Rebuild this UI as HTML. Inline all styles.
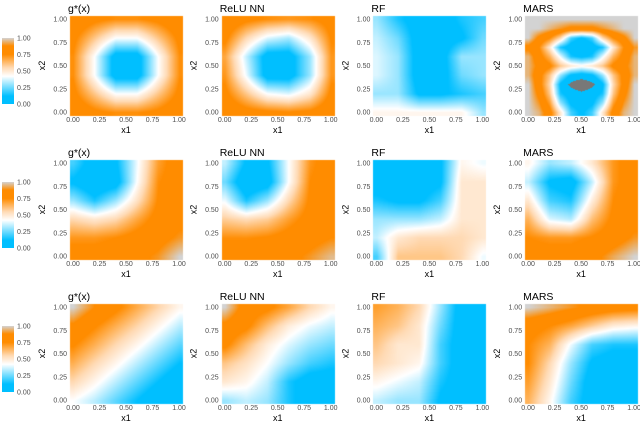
<!DOCTYPE html>
<html><head><meta charset="utf-8"><style>
body{margin:0;background:#fff;width:640px;height:422px;overflow:hidden;position:relative;font-family:"Liberation Sans",sans-serif}
canvas,svg{position:absolute;left:0;top:0}
</style></head><body>
<canvas id="cv" width="640" height="422"></canvas>
<svg id="sv" width="640" height="422"></svg>
<script>
const titles=["g*(x)","ReLU NN","RF","MARS"];
const ticks=[0,0.25,0.5,0.75,1];
const tickLabels=["0.00","0.25","0.50","0.75","1.00"];
// grids: rows from x2=1 (top) to x2=0 (bottom), columns x1=0..1
const g1=[[.85,.78,.74,.74,.78,.85],[.78,.6,.42,.42,.6,.78],[.74,.42,.05,.05,.42,.74],[.74,.42,.05,.05,.42,.74],[.78,.6,.42,.42,.6,.78],[.85,.78,.74,.74,.78,.85]];
const n1=[[.85,.78,.74,.72,.74,.8],[.78,.55,.38,.32,.5,.76],[.68,.35,.05,.05,.3,.72],[.72,.4,.05,.05,.3,.72],[.78,.6,.42,.38,.5,.78],[.85,.8,.78,.76,.78,.85]];
const r1=[[.3,.15,.05,.05,.15,.2],[.35,.25,.05,.05,.1,.25],[.38,.3,.05,.05,.3,.3],[.38,.3,.05,.05,.25,.3],[.3,.3,.1,.1,.15,.2],[.45,.45,.45,.45,.45,.3]];
const m1=[[1,1,1,1,1,1,1,1,1,1,1],[1,1,.95,.9,.85,.85,.85,.9,.95,1,1],[1,.85,.75,.55,.2,.1,.2,.55,.75,.85,1],[.85,.75,.5,.15,.05,0,.05,.15,.5,.75,.9],[.95,.8,.65,.4,.15,.1,.15,.4,.65,.8,.95],[.95,.85,.78,.6,.5,.45,.5,.6,.78,.85,.95],[.95,.8,.6,.3,.1,.05,.1,.3,.6,.8,.95],[1,.8,.55,.1,-.1,-.2,-.1,.1,.55,.8,1],[1,.85,.6,.15,.05,0,.05,.15,.6,.85,1],[1,.9,.7,.3,.1,.05,.1,.3,.7,.9,1],[1,.95,.8,.5,.2,.1,.2,.5,.8,.95,1]];
const g2=[[.2,.05,.1,.4,.7,.82],[.1,0,.05,.42,.74,.82],[.3,.15,.3,.52,.76,.82],[.55,.5,.55,.68,.8,.85],[.72,.72,.75,.8,.84,.9],[.8,.8,.82,.85,.9,1]];
const n2=[[.35,.1,.1,.42,.72,.82],[.25,0,.05,.42,.75,.82],[.4,.15,.3,.55,.77,.82],[.58,.54,.58,.7,.8,.85],[.74,.74,.76,.8,.84,.88],[.8,.8,.82,.85,.9,.96]];
const r2=[[.05,.05,.05,.1,.45,.4],[.05,.05,.05,.1,.5,.5],[.15,.1,.1,.2,.5,.5],[.3,.3,.3,.35,.5,.5],[.35,.5,.55,.55,.55,.5],[.2,.6,.6,.6,.55,.4]];
const m2=[[.45,.3,.35,.5,.72,.82],[.35,.1,.05,.35,.72,.82],[.5,.2,.15,.48,.75,.82],[.65,.38,.33,.62,.78,.84],[.75,.72,.72,.76,.82,.9],[.8,.8,.8,.84,.93,1]];
const g3=[[1,.88,.78,.67,.56,.45],[.86,.76,.66,.56,.45,.34],[.76,.66,.55,.45,.34,.23],[.66,.55,.45,.34,.23,.12],[.55,.45,.34,.23,.12,.01],[.42,.34,.23,.12,.01,0]];
const n3=[[1,.82,.78,.68,.55,.45],[.85,.78,.62,.48,.4,.35],[.78,.62,.48,.38,.3,.25],[.6,.52,.42,.3,.2,.15],[.5,.45,.35,.15,.05,.05],[.3,.35,.3,.15,.05,.05]];
const r3=[[.7,.65,.55,.3,.05,.05],[.65,.6,.5,.25,.05,.05],[.6,.5,.5,.2,.05,.05],[.55,.5,.45,.2,.05,.05],[.45,.4,.35,.15,.05,.05],[.35,.3,.3,.1,.05,.05]];
const m3=[[1,.95,.9,.85,.82,.8],[.8,.75,.68,.58,.48,.45],[.75,.65,.4,.2,.15,.15],[.75,.55,.3,.1,.05,.05],[.7,.5,.25,.05,.05,.05],[.65,.45,.2,.05,.05,.05]];
const grids=[[g1,n1,r1,m1],[g2,n2,r2,m2],[g3,n3,r3,m3]];

const stops=[[0,[0,191,255]],[0.12,[0,191,255]],[0.42,[255,255,255]],[0.55,[255,218,180]],[0.75,[255,140,0]],[0.88,[255,140,0]],[1,[211,211,211]]];
function col(v){
  if(v<-0.05) return [120,120,120];
  v=Math.max(0,Math.min(1,v));
  for(let i=1;i<stops.length;i++){if(v<=stops[i][0]){const a=stops[i-1],b=stops[i],t=(v-a[0])/(b[0]-a[0]);return a[1].map((c,k)=>Math.round(c+(b[1][k]-c)*t));}}
  return stops[stops.length-1][1];
}
function interp(g,x,y){
  const ny=g.length,nx=g[0].length;
  const fx=x*(nx-1),fy=(1-y)*(ny-1);
  const i=Math.min(nx-2,Math.floor(fx)),j=Math.min(ny-2,Math.floor(fy));
  const tx=fx-i,ty=fy-j;
  return g[j][i]*(1-tx)*(1-ty)+g[j][i+1]*tx*(1-ty)+g[j+1][i]*(1-tx)*ty+g[j+1][i+1]*tx*ty;
}
const W=106,H=93;
function px0(c){return 73+151.7*c;} function py0(r){return 19+144*r;}
const sx=(c,v)=>px0(c)+v*W, sy=(r,v)=>py0(r)+(1-v)*H;
const NS="http://www.w3.org/2000/svg",sv=document.getElementById('sv');
function mk(tag,at,txt){const e=document.createElementNS(NS,tag);for(const k in at)e.setAttribute(k,at[k]);if(txt!==undefined)e.textContent=txt;sv.appendChild(e);return e;}
const cv=document.getElementById('cv'),ctx=cv.getContext('2d');
const img=ctx.createImageData(640,422);
for(let r=0;r<3;r++)for(let c=0;c<4;c++){
  const g=grids[r][c];
  const x0=Math.round(px0(c))-3,x1=Math.round(px0(c)+W)+3,y0=Math.round(py0(r))-3,y1=Math.round(py0(r)+H)+3;
  for(let py=y0;py<=y1;py++)for(let px=x0;px<=x1;px++){
    const dx=Math.max(0,Math.min(1,(px-px0(c))/W)),dy=Math.max(0,Math.min(1,1-(py-py0(r))/H));
    const cc=col(interp(g,dx,dy));const o=(py*640+px)*4;
    img.data[o]=cc[0];img.data[o+1]=cc[1];img.data[o+2]=cc[2];img.data[o+3]=255;
  }
}
ctx.putImageData(img,0,0);
for(let r=0;r<3;r++){
  for(let c=0;c<4;c++){
    const t=mk('text',{x:px0(c)-5,y:py0(r)-7,'font-size':10.5,fill:'#000'},titles[c]);
    
    ticks.forEach((v,i)=>{
      const a=mk('text',{x:sx(c,v),y:py0(r)+H+10,'font-size':7,fill:'#4d4d4d','text-anchor':'middle'},tickLabels[i]);
      
      const b=mk('text',{x:px0(c)-6,y:sy(r,v)+2.5,'font-size':7,fill:'#4d4d4d','text-anchor':'end'},tickLabels[i]);
      
    });
    const xl=mk('text',{x:px0(c)+W/2,y:py0(r)+H+21,'font-size':9,fill:'#000','text-anchor':'middle'},'x1');
    
    const yx=px0(c)-28,yy=py0(r)+H/2;
    const yl=mk('text',{x:yx,y:yy,'font-size':9,fill:'#000','text-anchor':'middle',transform:`rotate(-90 ${yx} ${yy})`},'x2');
    
  }
  const ly=38+144*r,lh=66;
  const gid='lg'+r;
  const defs=mk('defs',{});
  const lg=document.createElementNS(NS,'linearGradient');lg.setAttribute('id',gid);lg.setAttribute('x1',0);lg.setAttribute('y1',1);lg.setAttribute('x2',0);lg.setAttribute('y2',0);
  stops.forEach(s=>{const st=document.createElementNS(NS,'stop');st.setAttribute('offset',s[0]);st.setAttribute('stop-color',`rgb(${s[1].join(',')})`);lg.appendChild(st);});
  defs.appendChild(lg);
  const rect=mk('rect',{x:2,y:ly,width:12,height:lh,fill:`url(#${gid})`});
  
  ticks.forEach((v,i)=>{
    const t=mk('text',{x:17,y:ly+lh-v*lh+2.5,'font-size':7,fill:'#4d4d4d'},tickLabels[i]);
    
  });
}
</script>
</body></html>
